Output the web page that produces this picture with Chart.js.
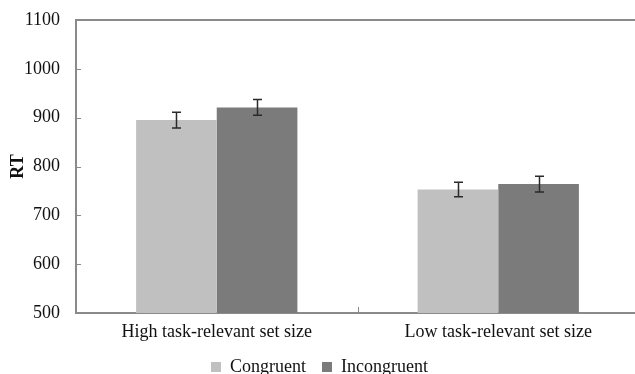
<!DOCTYPE html>
<html>
<head>
<meta charset="utf-8">
<script src="https://cdn.jsdelivr.net/npm/chart.js@4/dist/chart.umd.min.js"></script>
<style>
html,body{margin:0;padding:0;background:#fff;overflow:hidden;}
#wrap{position:relative;width:645px;height:374px;}
</style>
</head>
<body>
<div id="wrap"><canvas id="c"></canvas></div>
<script>
const categories = ["High task-relevant set size", "Low task-relevant set size"];
const congruent = [895, 753];
const incongruent = [921, 764];
const congruentErr = [16, 15];
const incongruentErr = [16, 16];
const yTicks = [500, 600, 700, 800, 900, 1000, 1100];

const FONT = "'Liberation Serif', 'Times New Roman', serif";
const AXIS = "#8a8a8a";

const decor = {
  id: 'decor',
  afterDatasetsDraw(chart) {
    const ctx = chart.ctx;
    const ca = chart.chartArea;
    const x = chart.scales.x, y = chart.scales.y;
    ctx.save();
    ctx.strokeStyle = AXIS;
    ctx.lineWidth = 2;
    ctx.beginPath();
    ctx.moveTo(ca.left, ca.top);
    ctx.lineTo(ca.right, ca.top);
    ctx.stroke();
    ctx.lineWidth = 1;
    yTicks.forEach(v => {
      const py = Math.round(y.getPixelForValue(v)) + 0.5;
      ctx.beginPath();
      ctx.moveTo(ca.left, py);
      ctx.lineTo(ca.left + 5, py);
      ctx.stroke();
    });
    const mx = Math.round((x.getPixelForTick(0) + x.getPixelForTick(1)) / 2) + 0.5;
    ctx.beginPath();
    ctx.moveTo(mx, ca.bottom);
    ctx.lineTo(mx, ca.bottom - 6);
    ctx.stroke();
    ctx.strokeStyle = "#2a2a2a";
    ctx.lineWidth = 1.5;
    const errs = [congruentErr, incongruentErr];
    chart.data.datasets.forEach((ds, di) => {
      const meta = chart.getDatasetMeta(di);
      meta.data.forEach((bar, i) => {
        const v = ds.data[i], e = errs[di][i];
        const bx = Math.round(bar.x) + 0.5;
        const y1 = y.getPixelForValue(v + e), y2 = y.getPixelForValue(v - e);
        ctx.beginPath();
        ctx.moveTo(bx, y1); ctx.lineTo(bx, y2);
        ctx.moveTo(bx - 4.5, y1); ctx.lineTo(bx + 4.5, y1);
        ctx.moveTo(bx - 4.5, y2); ctx.lineTo(bx + 4.5, y2);
        ctx.stroke();
      });
    });
    ctx.restore();
  }
};

new Chart(document.getElementById('c'), {
  type: 'bar',
  data: {
    labels: categories,
    datasets: [
      { label: 'Congruent', data: congruent, backgroundColor: '#c0c0c0', borderWidth: 0 },
      { label: 'Incongruent', data: incongruent, backgroundColor: '#7b7b7b', borderWidth: 0 }
    ]
  },
  options: {
    responsive: true,
    maintainAspectRatio: false,
    animation: false,
    layout: { padding: { left: 0, right: 6, top: 20, bottom: -12 } },
    datasets: { bar: { barPercentage: 1.0, categoryPercentage: 0.573 } },
    plugins: {
      tooltip: { enabled: false },
      legend: {
        position: 'bottom',
        labels: {
          font: { family: FONT, size: 18 },
          color: '#111',
          boxWidth: 10, boxHeight: 10,
          padding: 16
        }
      }
    },
    scales: {
      x: {
        grid: { display: false },
        border: { color: AXIS, width: 2 },
        ticks: { font: { family: FONT, size: 18 }, color: '#111', padding: 0 },
        afterFit(scale) { scale.height = 29; }
      },
      y: {
        min: 500, max: 1100,
        afterBuildTicks(scale) { scale.ticks = yTicks.map(v => ({ value: v })); },
        grid: { display: false },
        border: { color: AXIS, width: 2 },
        ticks: { font: { family: FONT, size: 18 }, color: '#111', padding: 8, callback: v => String(v) },
        title: { display: true, text: 'RT', font: { family: FONT, size: 18, weight: 'bold' }, color: '#111', padding: 8 },
        afterFit(scale) { scale.width = 76; }
      }
    }
  },
  plugins: [decor]
});
</script>
</body>
</html>
